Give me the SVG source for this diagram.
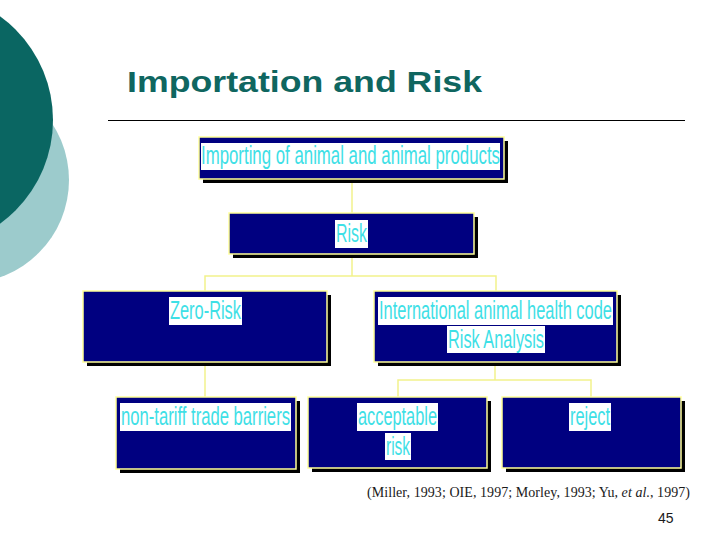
<svg xmlns="http://www.w3.org/2000/svg" width="720" height="540" viewBox="0 0 720 540">
<style>
.box{fill:#000080;stroke:#ffff99;stroke-width:1.5}
.sh{fill:#000000}
.hl{fill:#ffffff}
.lbl{font-family:"Liberation Sans",Arial,sans-serif;font-size:26px;fill:#3ee0e6}
.con{fill:none;stroke:#f2f28c;stroke-width:1.5}
</style>
<rect width="720" height="540" fill="#ffffff"/>
<circle cx="-34" cy="180" r="103" fill="#9ccbcc"/>
<circle cx="-75" cy="120" r="128" fill="#0a6662"/>
<text x="127" y="92" font-family="Liberation Sans,Arial,sans-serif" font-weight="bold" font-size="30" fill="#0f6660" textLength="355" lengthAdjust="spacingAndGlyphs">Importation and Risk</text>
<line x1="108" y1="120.5" x2="685" y2="120.5" stroke="#000000" stroke-width="1"/>

<g id="connectors">
<path class="con" d="M352,179 V213"/>
<path class="con" d="M352,254 V276 M205,291 V276 H496 V291"/>
<path class="con" d="M205,362 V397"/>
<path class="con" d="M495,362 V380 M398,397 V380 H591 V397"/>
</g>

<g id="n-import">
<rect class="sh" x="203" y="141" width="305" height="42"/>
<rect class="box" x="199" y="137" width="305" height="42"/>
<rect class="hl" x="201" y="143" width="299" height="27"/>
<text class="lbl" x="201" y="164" textLength="299" lengthAdjust="spacingAndGlyphs">Importing of animal and animal products</text>
</g>

<g id="n-risk">
<rect class="sh" x="233" y="217" width="245" height="41"/>
<rect class="box" x="229" y="213" width="245" height="41"/>
<rect class="hl" x="335" y="220" width="33" height="28"/>
<text class="lbl" x="336" y="242" textLength="31" lengthAdjust="spacingAndGlyphs">Risk</text>
</g>

<g id="n-zero">
<rect class="sh" x="87" y="295" width="244" height="71"/>
<rect class="box" x="83" y="291" width="244" height="71"/>
<rect class="hl" x="169" y="297" width="73" height="28"/>
<text class="lbl" x="170" y="319" textLength="71" lengthAdjust="spacingAndGlyphs">Zero-Risk</text>
</g>

<g id="n-intl">
<rect class="sh" x="378" y="295" width="243" height="71"/>
<rect class="box" x="374" y="291" width="243" height="71"/>
<rect class="hl" x="378" y="297" width="235" height="28"/>
<text class="lbl" x="379" y="319" textLength="233" lengthAdjust="spacingAndGlyphs">International animal health code</text>
<rect class="hl" x="447" y="326" width="98" height="27"/>
<text class="lbl" x="448" y="348" textLength="96" lengthAdjust="spacingAndGlyphs">Risk Analysis</text>
</g>

<g id="n-nontariff">
<rect class="sh" x="120" y="401" width="180" height="72"/>
<rect class="box" x="116" y="397" width="180" height="72"/>
<rect class="hl" x="120" y="403" width="171" height="28"/>
<text class="lbl" x="121" y="425" textLength="169" lengthAdjust="spacingAndGlyphs">non-tariff trade barriers</text>
</g>

<g id="n-acceptable">
<rect class="sh" x="312" y="401" width="179" height="71"/>
<rect class="box" x="308" y="397" width="179" height="71"/>
<rect class="hl" x="357" y="403" width="81" height="28"/>
<text class="lbl" x="358" y="425" textLength="79" lengthAdjust="spacingAndGlyphs">acceptable</text>
<rect class="hl" x="385" y="433" width="26" height="27"/>
<text class="lbl" x="386" y="455" textLength="24" lengthAdjust="spacingAndGlyphs">risk</text>
</g>

<g id="n-reject">
<rect class="sh" x="506" y="401" width="179" height="71"/>
<rect class="box" x="502" y="397" width="179" height="71"/>
<rect class="hl" x="569" y="403" width="42" height="28"/>
<text class="lbl" x="570" y="425" textLength="40" lengthAdjust="spacingAndGlyphs">reject</text>
</g>

<text x="367" y="497" font-family="Liberation Serif,Times New Roman,serif" font-size="14" fill="#1a1a1a" textLength="323" lengthAdjust="spacing">(Miller, 1993; OIE, 1997; Morley, 1993; Yu, <tspan font-style="italic">et al.</tspan>, 1997)</text>
<text x="658" y="523" font-family="Liberation Sans,Arial,sans-serif" font-size="14" fill="#1a1a1a">45</text>
</svg>
